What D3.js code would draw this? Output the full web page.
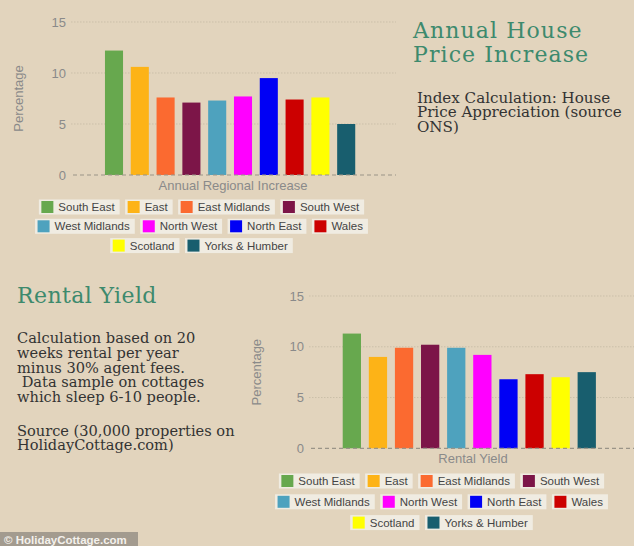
<!DOCTYPE html>
<meta charset="utf-8" />
<style>
  body { margin: 0; background: #e2d4bd; }
  svg { display: block; }
  .tick-label { font-family: "Liberation Sans", Arial, sans-serif; font-size: 13px; fill: #8a8a8a; }
  .axis-title { font-family: "Liberation Sans", Arial, sans-serif; font-size: 13px; fill: #8a8a8a; }
  .legend text { font-family: "Liberation Sans", Arial, sans-serif; font-size: 11.5px; fill: #444; }
  .title { font-family: "DejaVu Serif", serif; font-size: 22px; fill: #3d8a6d; }
  .note { font-family: "DejaVu Serif", serif; font-size: 15px; fill: #333; }
</style>
<body>
  <script src="https://d3js.org/d3.v7.min.js"></script>
  <script>
    // regions and their colours (same for both charts)
    const regions = ["South East", "East", "East Midlands", "South West", "West Midlands",
      "North West", "North East", "Wales", "Scotland", "Yorks & Humber"];
    const regionColors = ["#67a84e", "#fdb317", "#fb6a30", "#7c1548", "#4ea2be",
      "#ff00ff", "#0000f5", "#cc0000", "#ffff00", "#185e6e"];

    // values (%)
    const annualIncrease = [12.2, 10.6, 7.6, 7.1, 7.3, 7.7, 9.5, 7.4, 7.6, 5.0];
    const rentalYield = [11.3, 9.0, 9.9, 10.2, 9.9, 9.2, 6.8, 7.3, 7.0, 7.5];

    const yTicks = [0, 5, 10, 15];
    const legendRows = [[0, 1, 2, 3], [4, 5, 6, 7], [8, 9]];

    const svg = d3.select("body").append("svg")
      .attr("width", 634)
      .attr("height", 546);

    function drawChart(opt) {
      const g = svg.append("g");

      const x = d3.scaleBand()
        .domain(regions)
        .range([opt.x0, opt.x1])
        .paddingInner(0.3)
        .paddingOuter(0.15);

      const y = d3.scaleLinear()
        .domain([0, 15])
        .range([opt.y0, opt.y1]);

      // grid lines (dotted) and the zero line (dashed)
      g.selectAll(".grid")
        .data(yTicks.filter(d => d > 0))
        .join("line")
        .attr("x1", opt.gridLeft).attr("x2", opt.gridRight)
        .attr("y1", d => y(d)).attr("y2", d => y(d))
        .attr("stroke", "#cbbfa9")
        .attr("stroke-width", 1)
        .attr("stroke-dasharray", "1.5,1.5");

      g.selectAll(".tick-label")
        .data(yTicks)
        .join("text")
        .attr("class", "tick-label")
        .attr("x", opt.gridLeft - 5)
        .attr("y", d => y(d))
        .attr("dy", "0.35em")
        .attr("text-anchor", "end")
        .text(d => d);

      g.append("text")
        .attr("class", "axis-title")
        .attr("transform", "translate(" + opt.yTitleX + "," + (opt.y0 + opt.y1) / 2 + ") rotate(-90)")
        .attr("text-anchor", "middle")
        .text("Percentage");

      g.selectAll(".bar")
        .data(opt.values)
        .join("rect")
        .attr("x", (d, i) => x(regions[i]))
        .attr("width", x.bandwidth())
        .attr("y", d => y(d))
        .attr("height", d => y(0) - y(d))
        .attr("fill", (d, i) => regionColors[i]);

      g.append("line")
        .attr("x1", opt.gridLeft + 2).attr("x2", opt.gridRight)
        .attr("y1", y(0)).attr("y2", y(0))
        .attr("stroke", "#9a9488")
        .attr("stroke-width", 1.2)
        .attr("stroke-dasharray", "4,3");

      g.append("text")
        .attr("class", "axis-title")
        .attr("x", opt.xTitleX)
        .attr("y", y(0) + 15)
        .attr("text-anchor", "middle")
        .text(opt.xTitle);

      // legend, centred row by row
      const lg = g.append("g").attr("class", "legend");
      legendRows.forEach((row, r) => {
        const rowG = lg.append("g");
        let cx = 0;
        row.forEach(i => {
          const item = rowG.append("g").attr("transform", "translate(" + cx + ",0)");
          const bg = item.append("rect")
            .attr("y", -7.5).attr("height", 15)
            .attr("fill", "#f2eee6").attr("opacity", 0.9);
          item.append("rect")
            .attr("x", 2.5).attr("y", -6)
            .attr("width", 12).attr("height", 12)
            .attr("fill", regionColors[i]);
          const t = item.append("text")
            .attr("x", 19.5).attr("dy", "0.35em")
            .text(regions[i]);
          const w = 19.5 + t.node().getComputedTextLength() + 5;
          bg.attr("width", w);
          cx += w + 5.5;
        });
        const rowW = cx - 5.5;
        rowG.attr("transform", "translate(" + (opt.legendCenter - rowW / 2) + "," + (opt.legendY + r * opt.legendStep) + ")");
      });
    }

    drawChart({
      values: annualIncrease, x0: 101.1, x1: 359.1, y0: 175, y1: 22,
      gridLeft: 71, gridRight: 396, yTitleX: 23, xTitle: "Annual Regional Increase",
      xTitleX: 233, legendCenter: 201.5, legendY: 207, legendStep: 19.3
    });

    drawChart({
      values: rentalYield, x0: 338.8, x1: 599.8, y0: 448.3, y1: 296,
      gridLeft: 309, gridRight: 634, yTitleX: 261, xTitle: "Rental Yield",
      xTitleX: 473, legendCenter: 441.5, legendY: 481, legendStep: 20.8
    });

    // text blocks
    function textBlock(cls, x, y, step, lines, spacing, size) {
      const t = svg.append("text").attr("class", cls);
      if (spacing) t.attr("letter-spacing", spacing);
      if (size) t.style("font-size", size + "px");
      lines.forEach((l, i) => {
        t.append("tspan").attr("x", x).attr("y", y + i * step).text(l);
      });
    }

    textBlock("title", 413, 38, 23.5, ["Annual House", "Price Increase"], 1.1);
    textBlock("note", 417, 102.5, 14.6, ["Index Calculation: House", "Price Appreciation (source", "ONS)"], 0, 15.1);
    textBlock("title", 17, 302.5, 27, ["Rental Yield"], 0.4);
    textBlock("note", 17, 343, 14.75, ["Calculation based on 20", "weeks rental per year",
      "minus 30% agent fees.", "\u00a0Data sample on cottages", "which sleep 6-10 people."], 0, 14.6);
    textBlock("note", 17, 435.5, 14.75, ["Source (30,000 properties on", "HolidayCottage.com)"], 0, 14.6);

    // footer credit
    svg.append("rect")
      .attr("x", 0).attr("y", 532).attr("width", 138).attr("height", 14)
      .attr("fill", "#a39b8f");
    svg.append("text")
      .attr("x", 4).attr("y", 543.5)
      .attr("font-family", "Liberation Sans, Arial, sans-serif")
      .attr("font-size", "11.5px")
      .attr("font-weight", "bold")
      .attr("fill", "#f4f1ec")
      .text("\u00a9 HolidayCottage.com");
  </script>
</body>
